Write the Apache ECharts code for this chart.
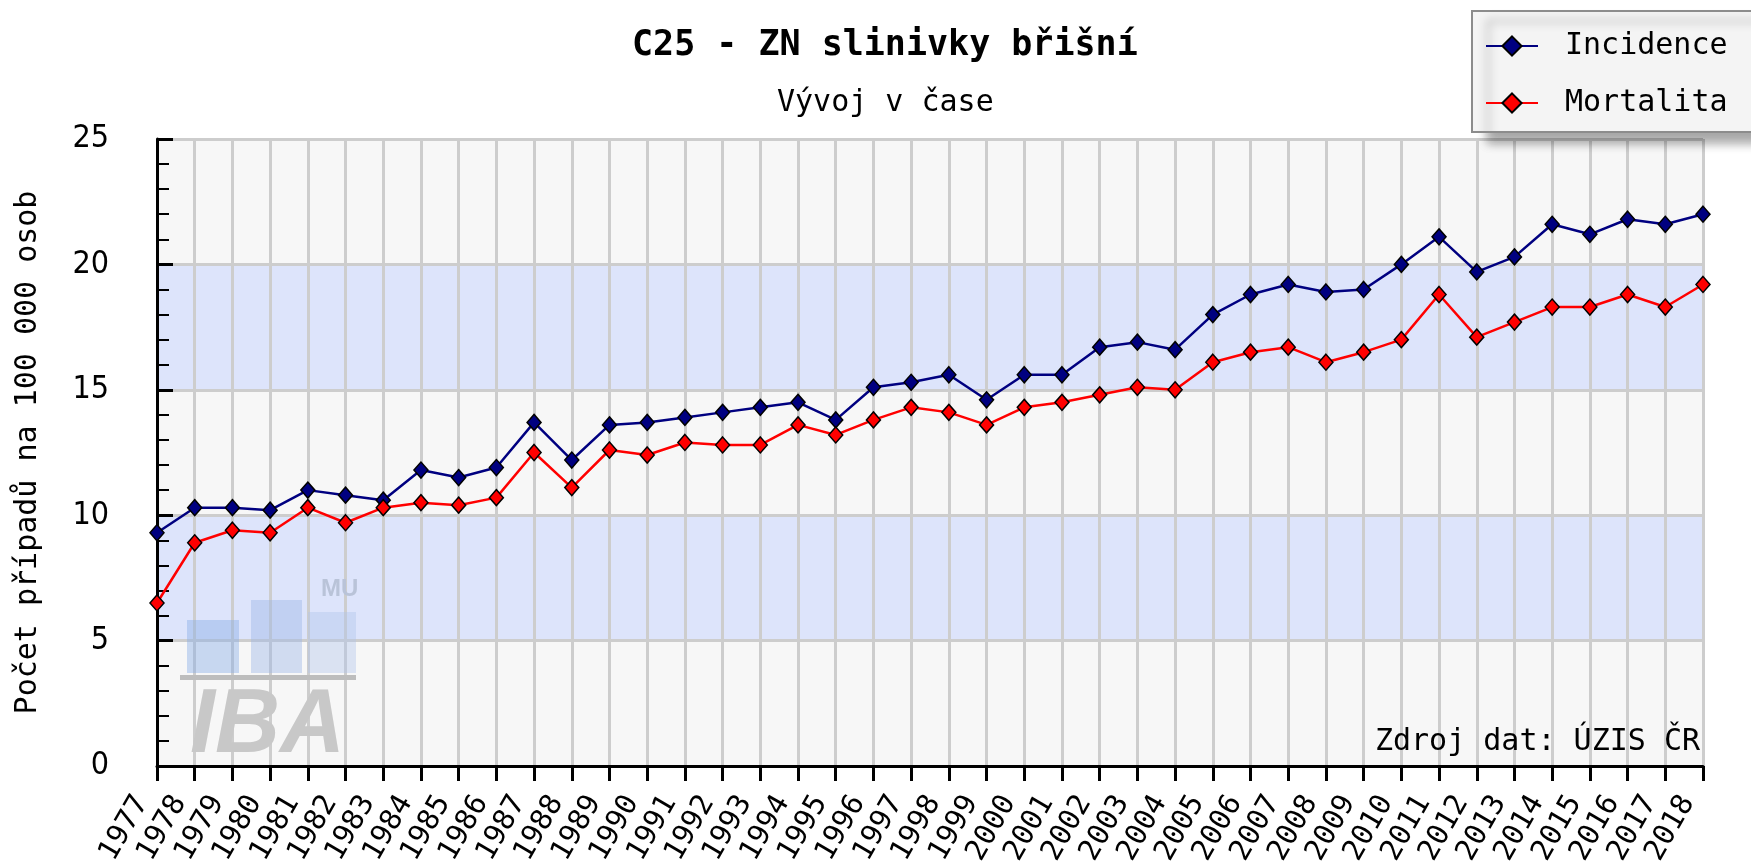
<!DOCTYPE html>
<html>
<head>
<meta charset="utf-8">
<title>C25 - ZN slinivky břišní</title>
<script src="https://cdn.jsdelivr.net/npm/echarts@6/dist/echarts.min.js"></script>
<style>
  html, body { margin: 0; padding: 0; background: #fff; }
  #chart { width: 1751px; height: 865px; }
</style>
</head>
<body>
<div id="chart"></div>
<script>
const years = [
  "1977", "1978", "1979", "1980", "1981", "1982", "1983", "1984", "1985", "1986",
  "1987", "1988", "1989", "1990", "1991", "1992", "1993", "1994", "1995", "1996",
  "1997", "1998", "1999", "2000", "2001", "2002", "2003", "2004", "2005", "2006",
  "2007", "2008", "2009", "2010", "2011", "2012", "2013", "2014", "2015", "2016",
  "2017", "2018",
];
const incidence = [
  9.3, 10.3, 10.3, 10.2, 11.0, 10.8, 10.6, 11.8, 11.5, 11.9,
  13.7, 12.2, 13.6, 13.7, 13.9, 14.1, 14.3, 14.5, 13.8, 15.1,
  15.3, 15.6, 14.6, 15.6, 15.6, 16.7, 16.9, 16.6, 18.0, 18.8,
  19.2, 18.9, 19.0, 20.0, 21.1, 19.7, 20.3, 21.6, 21.2, 21.8,
  21.6, 22.0,
];
const mortalita = [
  6.5, 8.9, 9.4, 9.3, 10.3, 9.7, 10.3, 10.5, 10.4, 10.7,
  12.5, 11.1, 12.6, 12.4, 12.9, 12.8, 12.8, 13.6, 13.2, 13.8,
  14.3, 14.1, 13.6, 14.3, 14.5, 14.8, 15.1, 15.0, 16.1, 16.5,
  16.7, 16.1, 16.5, 17.0, 18.8, 17.1, 17.7, 18.3, 18.3, 18.8,
  18.3, 19.2,
];

const mono = '"DejaVu Sans Mono", "Liberation Mono", monospace';

var myChart = echarts.init(document.getElementById("chart"));

var option = {
  backgroundColor: "#ffffff",
  animation: false,
  title: [
    {
      text: "C25 - ZN slinivky břišní",
      left: 632,
      top: 28,
      padding: 0,
      textStyle: { fontFamily: mono, fontSize: 35, fontWeight: "bold", color: "#000" },
    },
    {
      text: "Vývoj v čase",
      left: 777,
      top: 88,
      padding: 0,
      textStyle: { fontFamily: mono, fontSize: 30, fontWeight: "normal", color: "#000" },
    },
  ],
  legend: {
    orient: "vertical",
    left: 1472,
    top: 11,
    padding: [20, 60, 14, 13],
    itemGap: 27,
    itemWidth: 52,
    itemHeight: 24,
    backgroundColor: "#f4f4f4",
    borderColor: "#8c8c8c",
    borderWidth: 2,
    shadowColor: "rgba(0,0,0,0.35)",
    shadowBlur: 10,
    shadowOffsetX: 16,
    shadowOffsetY: 10,
    textStyle: {
      fontFamily: mono,
      fontSize: 30,
      lineHeight: 30,
      color: "#000",
      padding: [0, 0, 0, 22],
    },
    data: ["Incidence", "Mortalita"],
  },
  grid: {
    left: 157,
    right: 48,
    top: 139,
    bottom: 99,
    containLabel: false,
    // keep the plot box fixed; the year labels may run off the bottom edge like the original
    outerBoundsMode: "none",
  },
  xAxis: {
    type: "category",
    boundaryGap: false,
    data: years,
    axisLine: { lineStyle: { color: "#000", width: 3 } },
    axisTick: { show: true, inside: false, length: 15, lineStyle: { color: "#000", width: 3 } },
    axisLabel: {
      interval: 0,
      rotate: 60,
      margin: 6,
      // right padding pushes the rotated label down-left of its tick
      formatter: (value) => "{y|" + value + "}",
      rich: {
        y: { fontFamily: mono, fontSize: 29, color: "#000", padding: [0, 30, 0, 0] },
      },
      fontFamily: mono,
      fontSize: 29,
      color: "#000",
    },
    splitLine: { show: true, lineStyle: { color: "#cdcdcd", width: 3 } },
  },
  yAxis: {
    type: "value",
    min: 0,
    max: 25,
    interval: 5,
    name: "Počet případů na 100 000 osob",
    nameLocation: "middle",
    nameGap: 114,
    nameTextStyle: { fontFamily: mono, fontSize: 30, color: "#000" },
    axisLine: { show: true, lineStyle: { color: "#000", width: 3 } },
    axisTick: { show: true, inside: true, length: 16, lineStyle: { color: "#000", width: 3 } },
    minorTick: { show: true, splitNumber: 5, length: 12, lineStyle: { color: "#000", width: 2 } },
    axisLabel: {
      margin: 48,
      fontFamily: '"Liberation Sans Narrow", "DejaVu Sans Condensed", "Roboto Condensed", sans-serif',
      fontSize: 32,
      color: "#000",
    },
    splitLine: { show: true, lineStyle: { color: "#cdcdcd", width: 3 } },
    splitArea: { show: true, areaStyle: { color: ["#f7f7f7", "#dde4fb"] } },
  },
  graphic: [
    // IBA MU watermark
    { type: "rect", z: 2, shape: { x: 187, y: 620, width: 52, height: 53 }, style: { fill: "rgba(140,175,230,0.45)" } },
    { type: "rect", z: 2, shape: { x: 251, y: 600, width: 51, height: 73 }, style: { fill: "rgba(160,185,230,0.45)" } },
    { type: "rect", z: 2, shape: { x: 308, y: 612, width: 48, height: 61 }, style: { fill: "rgba(175,195,235,0.4)" } },
    { type: "rect", z: 2, shape: { x: 180, y: 675, width: 176, height: 5 }, style: { fill: "#bdbdbd" } },
    {
      type: "text",
      z: 2,
      x: 190,
      y: 682,
      style: {
        text: "IBA",
        font: 'italic bold 90px "Liberation Sans", Arial, sans-serif',
        fill: "#c8c8c8",
      },
    },
    {
      type: "text",
      z: 2,
      x: 321,
      y: 577,
      style: {
        text: "MU",
        font: 'bold 24px "Liberation Sans", Arial, sans-serif',
        fill: "#b9c3d8",
      },
    },
    {
      type: "text",
      z: 5,
      right: 51,
      top: 727,
      style: {
        text: "Zdroj dat: ÚZIS ČR",
        font: '30px "DejaVu Sans Mono", "Liberation Mono", monospace',
        fill: "#000",
      },
    },
  ],
  series: [
    {
      name: "Incidence",
      type: "line",
      data: incidence,
      symbol: "diamond",
      symbolSize: [14, 16],
      lineStyle: { color: "#000080", width: 2.5 },
      itemStyle: { color: "#000080", borderColor: "#000", borderWidth: 1.5 },
      z: 3,
    },
    {
      name: "Mortalita",
      type: "line",
      data: mortalita,
      symbol: "diamond",
      symbolSize: [14, 16],
      lineStyle: { color: "#ff0000", width: 2.5 },
      itemStyle: { color: "#ff0000", borderColor: "#000", borderWidth: 1.5 },
      z: 3,
    },
  ],
};

option && myChart.setOption(option);
</script>
</body>
</html>
